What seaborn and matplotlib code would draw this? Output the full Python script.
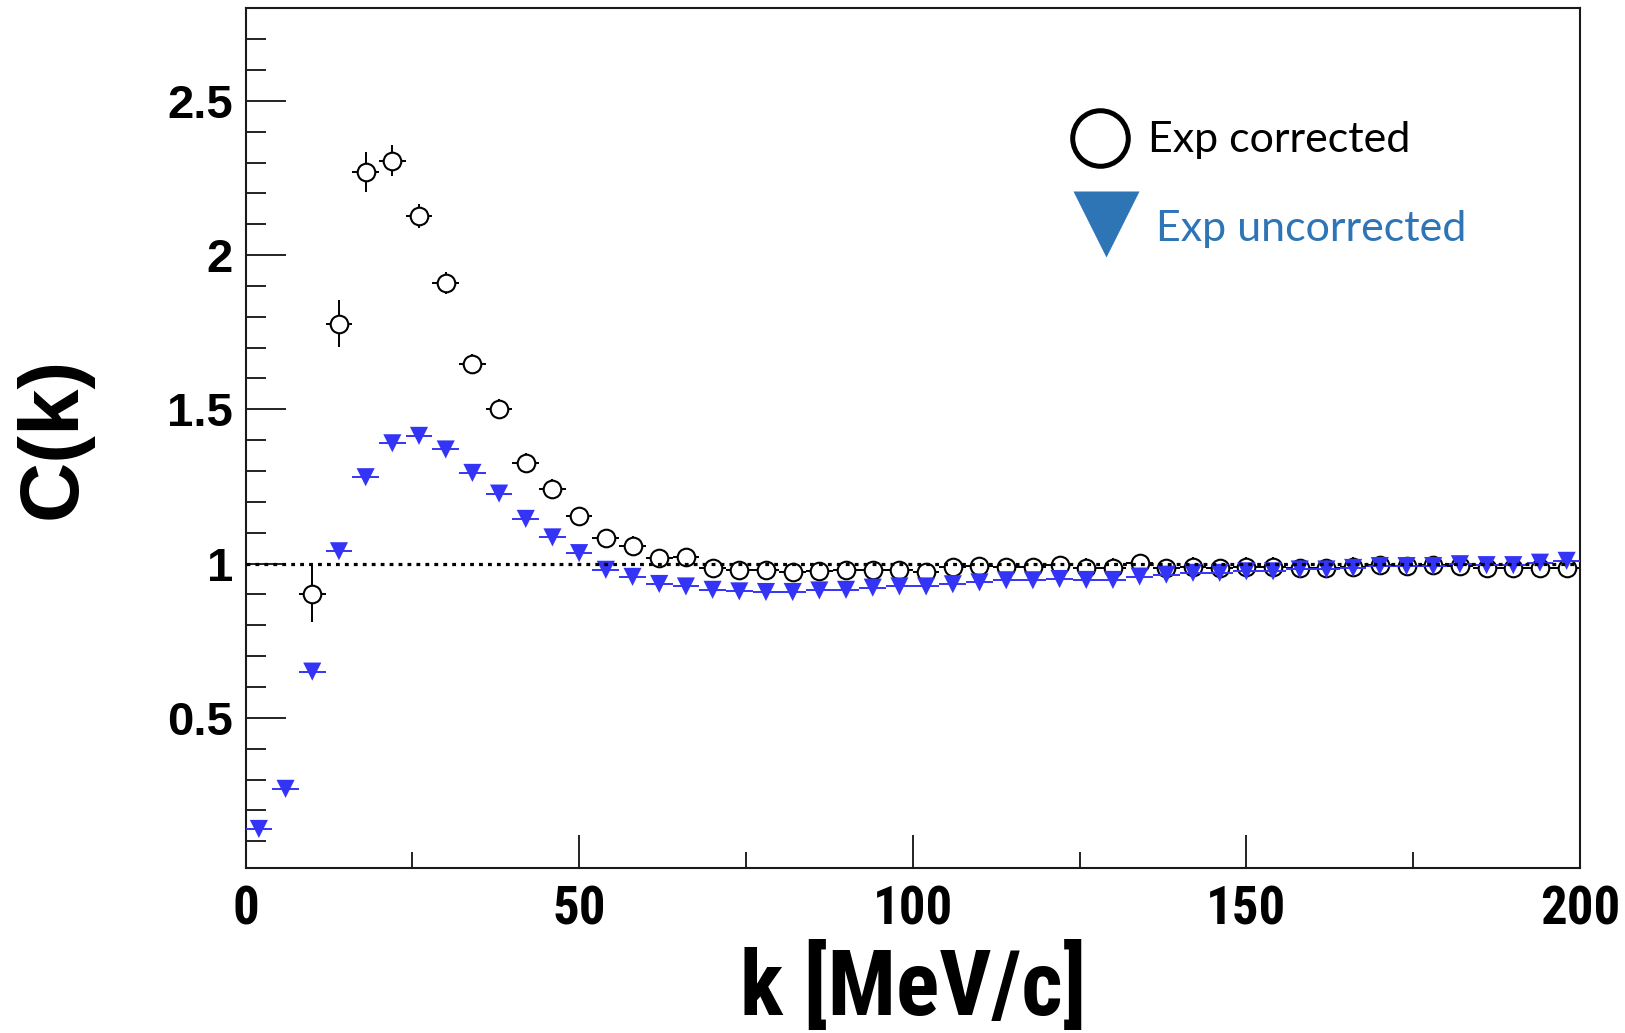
import numpy as np
import pandas as pd
import matplotlib
matplotlib.use("Agg")
import matplotlib.pyplot as plt
import seaborn as sns
from matplotlib import font_manager as fm
from matplotlib.ticker import MultipleLocator, FixedLocator, FormatStrFormatter

# ---------------- data ----------------
k_corr = [10, 14, 18, 22, 26, 30, 34, 38, 42, 46, 50, 54, 58, 62, 66, 70, 74, 78, 82, 86,
          90, 94, 98, 102, 106, 110, 114, 118, 122, 126, 130, 134, 138, 142, 146, 150, 154,
          158, 162, 166, 170, 174, 178, 182, 186, 190, 194, 198]
c_corr = [0.903, 1.778, 2.269, 2.306, 2.127, 1.909, 1.646, 1.502, 1.327, 1.243, 1.153, 1.083,
          1.058, 1.017, 1.021, 0.986, 0.980, 0.980, 0.973, 0.976, 0.978, 0.978, 0.978, 0.973,
          0.989, 0.991, 0.989, 0.989, 0.995, 0.987, 0.987, 1.002, 0.986, 0.990, 0.986, 0.990,
          0.990, 0.985, 0.985, 0.990, 0.996, 0.993, 0.996, 0.993, 0.985, 0.985, 0.985, 0.985]
c_corr_err = [0.093, 0.077, 0.066, 0.050, 0.040, 0.035, 0.032, 0.030, 0.030, 0.030, 0.030, 0.030,
              0.030, 0.030, 0.030, 0.030, 0.030, 0.030, 0.030, 0.030, 0.030, 0.030, 0.030, 0.030,
              0.030, 0.030, 0.030, 0.030, 0.030, 0.030, 0.030, 0.030, 0.030, 0.030, 0.030, 0.030,
              0.030, 0.030, 0.030, 0.030, 0.030, 0.030, 0.030, 0.030, 0.030, 0.030, 0.030, 0.030]

k_unc = [2, 6, 10, 14, 18, 22, 26, 30, 34, 38, 42, 46, 50, 54, 58, 62, 66, 70, 74, 78, 82, 86,
         90, 94, 98, 102, 106, 110, 114, 118, 122, 126, 130, 134, 138, 142, 146, 150, 154, 158,
         162, 166, 170, 174, 178, 182, 186, 190, 194, 198]
c_unc = [0.140, 0.270, 0.650, 1.040, 1.280, 1.390, 1.414, 1.370, 1.294, 1.227, 1.145, 1.085,
         1.034, 0.980, 0.957, 0.934, 0.926, 0.915, 0.910, 0.908, 0.908, 0.913, 0.915, 0.922,
         0.926, 0.926, 0.933, 0.939, 0.946, 0.946, 0.950, 0.947, 0.947, 0.958, 0.964, 0.970,
         0.970, 0.975, 0.975, 0.981, 0.981, 0.986, 0.992, 0.992, 0.992, 0.998, 0.995, 0.995,
         1.003, 1.009]
bin_half_width = 2.0

x_ticks = [0, 50, 100, 150, 200]
y_ticks = [0.5, 1.0, 1.5, 2.0, 2.5]
legend_labels = ["Exp corrected", "Exp uncorrected"]

# ---------------- style ----------------
sns.set_theme(style="white")
plt.rcParams["font.family"] = ["Liberation Sans", "DejaVu Sans"]
plt.rcParams["text.color"] = "black"
plt.rcParams["axes.labelcolor"] = "black"
plt.rcParams["xtick.color"] = "black"
plt.rcParams["ytick.color"] = "black"


def find_condensed_bold():
    cands = []
    for f in fm.fontManager.ttflist:
        name = f.name.lower()
        fname = f.fname.lower()
        is_cond = ("narrow" in name or "condensed" in name or "narrow" in fname
                   or "condensed" in fname or str(f.stretch) in ("condensed", "semi-condensed"))
        w = f.weight if isinstance(f.weight, int) else (700 if "bold" in str(f.weight) else 400)
        if is_cond and w >= 600 and "italic" not in fname and "oblique" not in fname:
            pri = 0 if "liberation" in name else (1 if "roboto" in name else 2)
            cands.append((pri, f.fname))
    if cands:
        cands.sort()
        return fm.FontProperties(fname=cands[0][1])
    return None


cond = find_condensed_bold()


def cond_props(size):
    if cond is not None:
        p = cond.copy()
        p.set_size(size)
        return p
    return fm.FontProperties(family="Liberation Sans", weight="bold", size=size * 0.82)


df_corr = pd.DataFrame({"k": k_corr, "C": c_corr, "err": c_corr_err})
df_unc = pd.DataFrame({"k": k_unc, "C": c_unc})

fig = plt.figure(figsize=(16.25, 10.33), dpi=100)
ax = fig.add_axes([0.1511, 0.1602, 0.8212, 0.8318])

blue = "#3434f6"

ax.errorbar(df_corr["k"], df_corr["C"], yerr=df_corr["err"], xerr=bin_half_width,
            fmt="none", ecolor="black", elinewidth=1.4, capsize=0, zorder=2)
sns.scatterplot(data=df_corr, x="k", y="C", ax=ax, marker="o", s=160,
                facecolor="white", edgecolor="black", linewidth=1.5, zorder=3, legend=False)

ax.errorbar(df_unc["k"], df_unc["C"], xerr=bin_half_width,
            fmt="none", ecolor=blue, elinewidth=1.4, capsize=0, zorder=4)
sns.scatterplot(data=df_unc, x="k", y="C", ax=ax, marker="v", s=170,
                color=blue, edgecolor="none", linewidth=0, zorder=5, legend=False)

ax.axhline(1.0, color="black", lw=2.3, dashes=(1.2, 1.6), zorder=6)

ax.set_xlim(0, 200)
ax.set_ylim(0.015, 2.8)

ax.xaxis.set_major_locator(FixedLocator(x_ticks))
ax.xaxis.set_minor_locator(FixedLocator([25, 75, 125, 175]))
ax.yaxis.set_major_locator(FixedLocator(y_ticks))
ax.yaxis.set_minor_locator(MultipleLocator(0.1))
ax.yaxis.set_major_formatter(FormatStrFormatter("%g"))

ax.tick_params(axis="both", which="both", direction="in", top=False, right=False,
               bottom=True, left=True, color="#111111")
ax.tick_params(axis="y", which="major", length=29, width=1.3, pad=9, labelsize=34)
ax.tick_params(axis="y", which="minor", length=14.5, width=1.3)
ax.tick_params(axis="x", which="major", length=24, width=1.3, pad=12)
ax.tick_params(axis="x", which="minor", length=11.5, width=1.3)
for lab in ax.get_yticklabels():
    lab.set_fontweight("bold")
    lab.set_color("black")
xprops = cond_props(38)
for lab in ax.get_xticklabels():
    lab.set_fontproperties(xprops)
    lab.set_color("black")

for sp in ax.spines.values():
    sp.set_visible(True)
    sp.set_color("#1a1a1a")
    sp.set_linewidth(1.5)

lprops = cond_props(65)
ax.set_xlabel("k [MeV/c]", fontproperties=lprops, color="black")
ax.xaxis.set_label_coords(0.5, -0.1395)
ax.xaxis.label.set_va("center")
ax.set_ylabel("C(k)", fontsize=60, fontweight="bold", color="black")
ax.yaxis.set_label_coords(-0.1435, 0.5)
ax.yaxis.label.set_va("center")
ax.yaxis.label.set_ha("center")


def fx(px):
    return (px - 245.5) / 1334.5


def fy(py):
    return (867.5 - py) / 859.2


ax.plot([fx(1100)], [fy(138)], transform=ax.transAxes, marker="o", ms=40,
        mfc="none", mec="black", mew=3.6, ls="none", clip_on=False, zorder=7)
ax.plot([fx(1106)], [fy(224)], transform=ax.transAxes, marker="v", ms=48,
        color="#2E75B6", mec="none", ls="none", clip_on=False, zorder=7)
ax.text(fx(1148), fy(152), legend_labels[0], transform=ax.transAxes, fontsize=31,
        family=["Lato", "DejaVu Sans"], color="black", ha="left", va="baseline")
ax.text(fx(1156), fy(241), legend_labels[1], transform=ax.transAxes, fontsize=31,
        family=["Lato", "DejaVu Sans"], color="#2E75B6", ha="left", va="baseline")

fig.savefig("out.png", dpi=100)
